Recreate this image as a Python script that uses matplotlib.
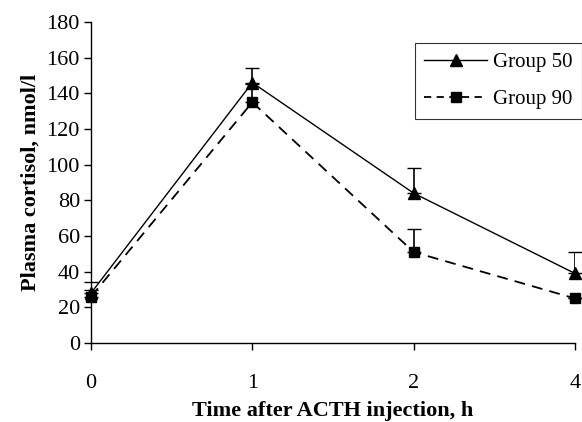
import matplotlib.pyplot as plt
import numpy as np

plt.rcParams['font.family'] = ['Liberation Serif', 'DejaVu Serif']

time_labels = ['0', '1', '2', '4']
group50 = [28, 146, 84, 39]
group50_err = [6, 8, 14, 12]
group90 = [26, 135, 51, 25]
group90_err = [4, 10, 13, 0]

x = np.arange(len(time_labels))

fig = plt.figure(figsize=(5.82, 4.22), dpi=100)
ax = fig.add_axes([91/582, 1-343/422, (575-91)/582, (343-22)/422])

ax.errorbar(x, group50, yerr=[np.zeros(4), group50_err], color='black', lw=1.0,
            marker='^', ms=8, capsize=5, elinewidth=1.2)
ax.errorbar(x, group90, yerr=[np.zeros(4), group90_err], color='black', lw=1.3,
            ls=(0, (6, 4)), marker='s', ms=7, capsize=5, elinewidth=1.2)
# legend handles without the error bar glyphs
ax.plot([], [], color='black', lw=1.0, marker='^', ms=8, label='Group 50')
ax.plot([], [], color='black', lw=1.3, ls=(0, (4, 3)), marker='s', ms=7, label='Group 90')

ax.set_xlim(0, 3)
ax.set_ylim(0, 180)
ax.set_yticks(np.arange(0, 181, 20))
ax.set_xticks(x)
ax.set_xticklabels(time_labels)
ax.tick_params(axis='both', labelsize=16, direction='out', length=5, width=1)
ax.tick_params(axis='x', pad=17)
ax.tick_params(axis='y', pad=3)
for s in ['top', 'right']:
    ax.spines[s].set_visible(False)
ax.spines['left'].set_linewidth(1)
ax.spines['bottom'].set_linewidth(1)

ax.set_xlabel('Time after ACTH injection, h', fontsize=16, fontweight='bold', labelpad=6)
ax.set_ylabel('Plasma cortisol, nmol/l', fontsize=16, fontweight='bold', labelpad=4)

leg = ax.legend(loc='upper right', bbox_to_anchor=(1.0, 1-43/422),
                bbox_transform=fig.transFigure, borderaxespad=0, fontsize=15,
                frameon=True, fancybox=False, edgecolor='black',
                handlelength=3.0, borderpad=0.45, labelspacing=0.85,
                handletextpad=0.3)
leg.get_frame().set_linewidth(0.8)

for line in ax.lines:
    line.set_clip_on(False)

fig.savefig('out.png', dpi=100)
